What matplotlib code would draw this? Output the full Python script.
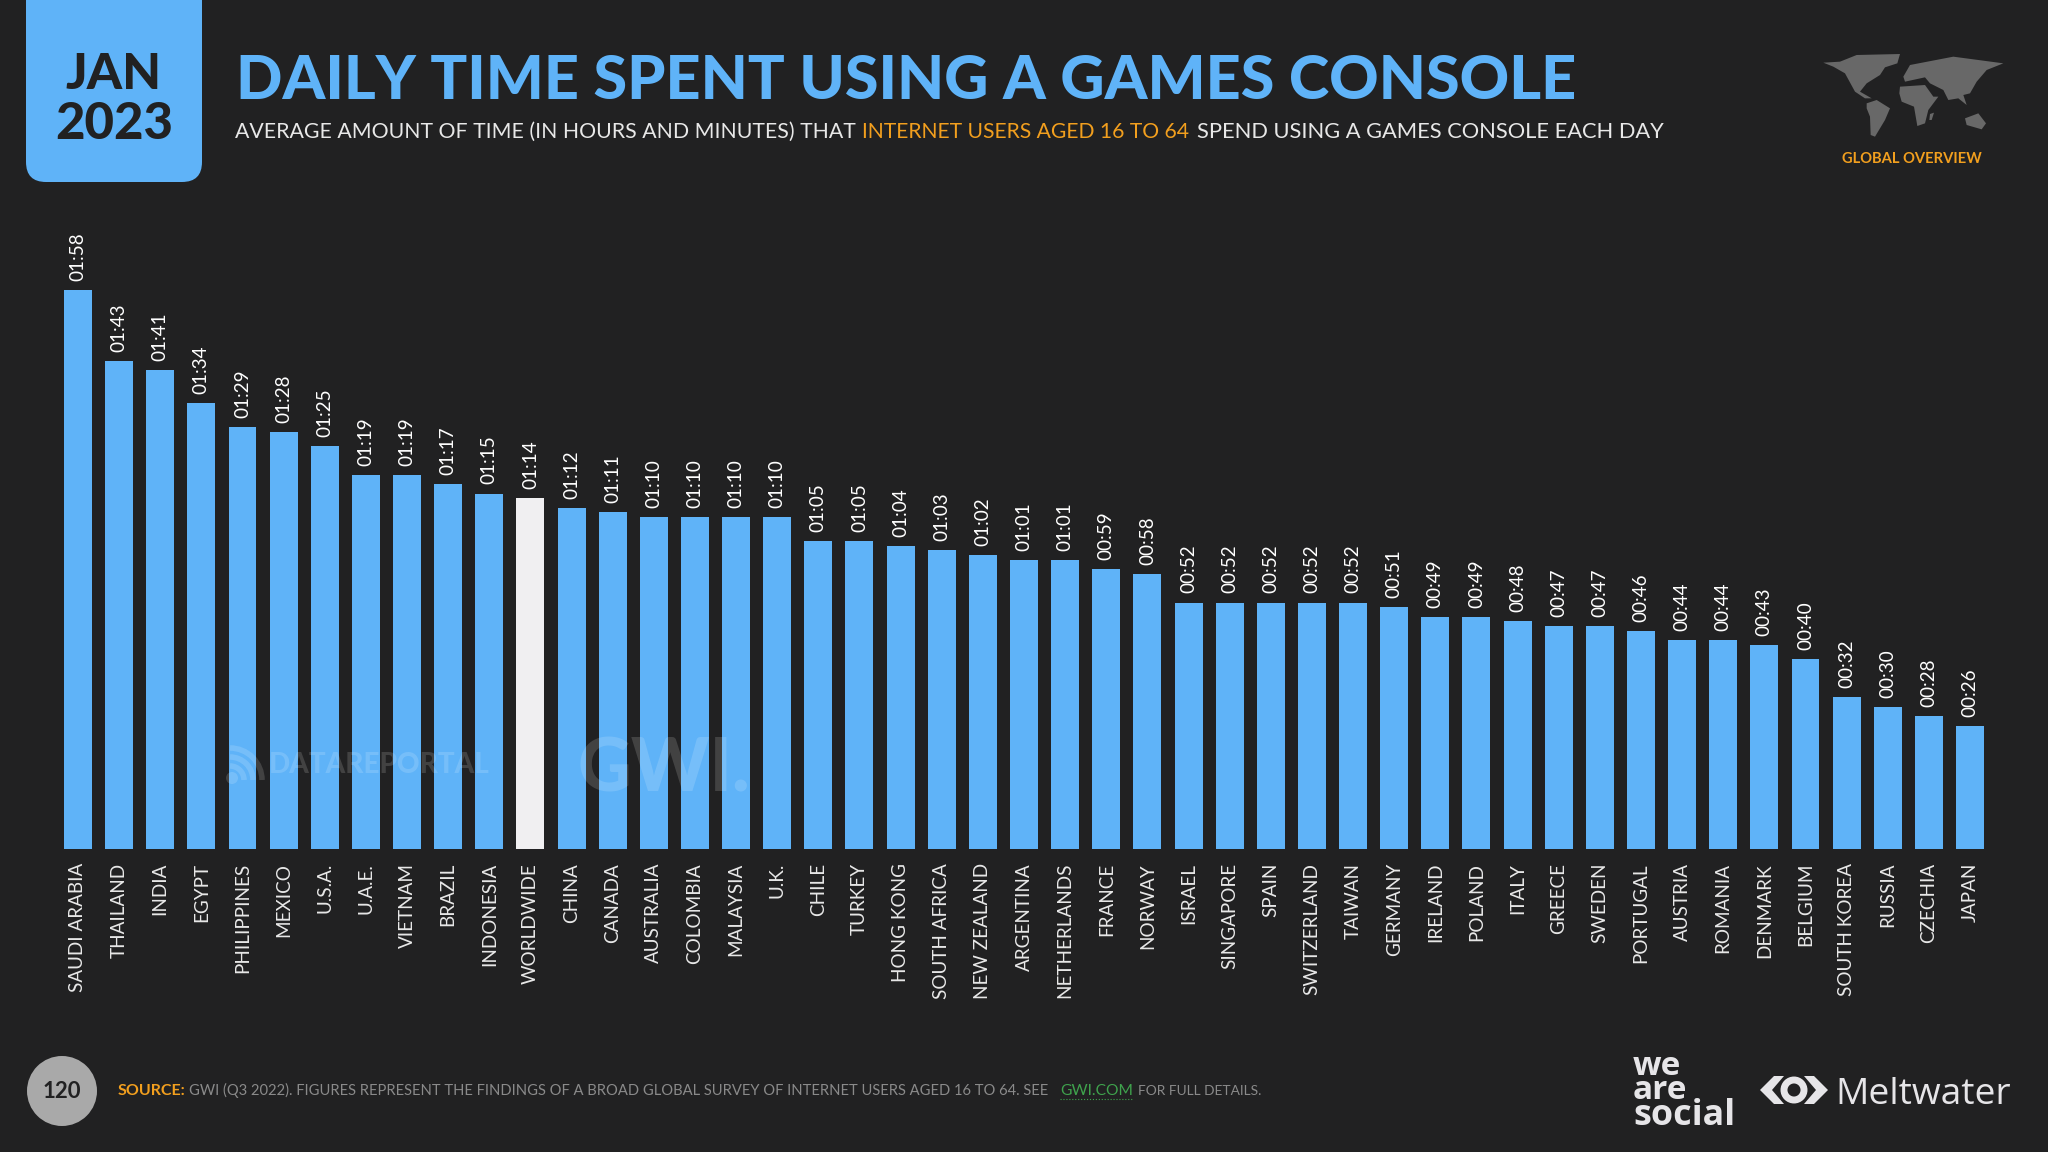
import matplotlib
matplotlib.use("Agg")
import matplotlib.pyplot as plt
from matplotlib.patches import Arc, Circle, FancyBboxPatch, Polygon

# chart values, minutes per day
countries = ["SAUDI ARABIA", "THAILAND", "INDIA", "EGYPT", "PHILIPPINES", "MEXICO", "U.S.A.", "U.A.E.",
             "VIETNAM", "BRAZIL", "INDONESIA", "WORLDWIDE", "CHINA", "CANADA", "AUSTRALIA", "COLOMBIA",
             "MALAYSIA", "U.K.", "CHILE", "TURKEY", "HONG KONG", "SOUTH AFRICA", "NEW ZEALAND", "ARGENTINA",
             "NETHERLANDS", "FRANCE", "NORWAY", "ISRAEL", "SINGAPORE", "SPAIN", "SWITZERLAND", "TAIWAN",
             "GERMANY", "IRELAND", "POLAND", "ITALY", "GREECE", "SWEDEN", "PORTUGAL", "AUSTRIA",
             "ROMANIA", "DENMARK", "BELGIUM", "SOUTH KOREA", "RUSSIA", "CZECHIA", "JAPAN"]
minutes = [118, 103, 101, 94, 89, 88, 85, 79, 79, 77, 75, 74, 72, 71, 70, 70, 70, 70, 65, 65, 64, 63, 62, 61,
           61, 59, 58, 52, 52, 52, 52, 52, 51, 49, 49, 48, 47, 47, 46, 44, 44, 43, 40, 32, 30, 28, 26]

BG = "#212122"
BLUE = "#5fb3f8"
WHITE_BAR = "#f0eff1"
ORANGE = "#f29f1e"
TEXT = "#e8e8e8"

W, H = 2048, 1152
PX_PER_MIN = 4.74
LATO = ["Lato", "DejaVu Sans"]

fig = plt.figure(figsize=(W / 100, H / 100), dpi=100, facecolor=BG)

# bars, axes placed in pixels
x0, x1, y_bottom, y_top = 57.4, 1990.6, 849, 200
ax = fig.add_axes([x0 / W, 1 - y_bottom / H, (x1 - x0) / W, (y_bottom - y_top) / H])
ax.set_facecolor("none")
ax.set_xlim(-0.5, len(countries) - 0.5)
ax.set_ylim(0, (y_bottom - y_top) / PX_PER_MIN)
ax.axis("off")

colors = [WHITE_BAR if c == "WORLDWIDE" else BLUE for c in countries]
bars = ax.bar(range(len(countries)), minutes, width=0.68, color=colors)
for i, m in enumerate(minutes):
    ax.annotate(f"{m // 60:02d}:{m % 60:02d}", (i, m), xytext=(0, 6.5), textcoords="offset points",
                rotation=90, ha="center", va="bottom", color="white", fontsize=13.6, family=LATO)
    ax.annotate(countries[i], (i, 0), xytext=(0, -10), textcoords="offset points", rotation=90,
                ha="center", va="top", color=TEXT, fontsize=13.6, family=LATO)

# overlay in pixel coordinates for header, footer and logos
ov = fig.add_axes([0, 0, 1, 1], zorder=5)
ov.set_xlim(0, W)
ov.set_ylim(H, 0)
ov.axis("off")
ov.patch.set_alpha(0)


def put(x, y, s, width=None, **kw):
    # width: change the font size until the string covers that many pixels
    kw.setdefault("family", LATO)
    t = ov.text(x, y, s, va=kw.pop("va", "baseline"), **kw)
    if width:
        r = fig.canvas.get_renderer()
        t.set_fontsize(t.get_fontsize() * width / t.get_window_extent(r).width)
    return t


# date box
ov.add_patch(FancyBboxPatch((26, -60), 176, 242, boxstyle="round,pad=0,rounding_size=20", fc=BLUE, ec="none"))
put(114, 89, "JAN", width=96, ha="center", color=BG, fontsize=36, fontweight="black")
put(114, 139, "2023", width=118, ha="center", color=BG, fontsize=36, fontweight="black")

put(236, 99, "DAILY TIME SPENT USING A GAMES CONSOLE", width=1341, color=BLUE, fontsize=46, fontweight="black")
put(235, 138, "AVERAGE AMOUNT OF TIME (IN HOURS AND MINUTES) THAT", width=619, color=TEXT, fontsize=16)
put(862, 138, "INTERNET USERS AGED 16 TO 64", width=329, color=ORANGE, fontsize=16)
put(1197, 138, "SPEND USING A GAMES CONSOLE EACH DAY", width=467, color=TEXT, fontsize=16)

# rough world map in the corner, shapes traced in a 3x crop starting at (1810, 40)
MAP = [
    [(40, 68), (90, 65), (140, 45), (270, 42), (262, 70), (225, 82), (210, 105), (170, 130), (150, 155), (185, 175),
     (165, 175), (135, 155), (105, 100), (70, 80)],
    [(170, 190), (200, 180), (240, 205), (225, 240), (195, 290), (182, 285), (180, 230), (170, 205)],
    [(270, 140), (345, 135), (370, 170), (385, 170), (355, 210), (345, 250), (322, 258), (312, 200), (275, 185),
     (268, 160)],
    [(280, 110), (300, 75), (430, 50), (580, 70), (530, 90), (500, 125), (480, 160), (460, 165), (470, 195),
     (445, 175), (415, 180), (400, 150), (360, 130), (345, 112), (285, 125)],
    [(465, 235), (505, 220), (528, 250), (515, 268), (470, 255)],
    [(360, 222), (372, 218), (365, 240), (358, 240)],
]
for shape in MAP:
    ov.add_patch(Polygon([(1810 + a / 3, 40 + b / 3) for a, b in shape], fc="#686868", ec="none"))
put(1912, 163, "GLOBAL OVERVIEW", width=140, ha="center", color=ORANGE, fontsize=11, fontweight="bold")

# watermarks
WM = dict(color="white", alpha=0.15)
put(269, 773, "DATAREPORTAL", width=220, fontsize=24, fontweight="black", **WM)
put(577, 792, "GWI.", width=173, fontsize=60, fontweight="black", **WM)
ov.add_patch(Circle((232, 778), 6, fc="white", ec="none", alpha=0.15))
for r in (14, 23, 32):
    ov.add_patch(Arc((230, 780), 2 * r, 2 * r, theta1=270, theta2=360, ec="white", lw=4, alpha=0.15))

# footer
ov.add_patch(Circle((62, 1091), 35, fc="#a9a9a9", ec="none"))
put(62, 1098, "120", ha="center", color=BG, fontsize=16, fontweight="bold")
put(118, 1095, "SOURCE:", width=68, color=ORANGE, fontsize=12, fontweight="bold")
put(189, 1095, "GWI (Q3 2022). FIGURES REPRESENT THE FINDINGS OF A BROAD GLOBAL SURVEY OF INTERNET USERS AGED 16 TO 64. SEE",
    width=857, color="#8a8a8a", fontsize=11)
put(1060, 1095, "GWI.COM", width=73, color="#3fa34d", fontsize=11)
ov.plot([1060, 1133], [1099, 1099], color="#3fa34d", lw=0.8, ls=":")
put(1138, 1095, "FOR FULL DETAILS.", width=124, color="#8a8a8a", fontsize=11)

# logos
LOGO = "#e6e5e8"
put(1633, 1075, "we", color=LOGO, fontsize=24, fontweight="bold", family=["Open Sans", "DejaVu Sans"])
put(1633, 1099, "are", color=LOGO, fontsize=24, fontweight="bold", family=["Open Sans", "DejaVu Sans"])
put(1633, 1125, "social", width=102, color=LOGO, fontsize=24, fontweight="bold", family=["Open Sans", "DejaVu Sans"])
put(1835, 1104, "Meltwater", width=175, color=LOGO, fontsize=30, family=["Open Sans", "DejaVu Sans"])
ov.add_patch(Polygon([(1774, 1076), (1760, 1090), (1774, 1104), (1784, 1104), (1772, 1090), (1784, 1076)], fc=LOGO, ec="none"))
ov.add_patch(Polygon([(1814, 1076), (1828, 1090), (1814, 1104), (1804, 1104), (1816, 1090), (1804, 1076)], fc=LOGO, ec="none"))
ov.add_patch(Circle((1794, 1090), 10, fc="none", ec=LOGO, lw=5))

fig.savefig("out.png", dpi=100, facecolor=BG)
